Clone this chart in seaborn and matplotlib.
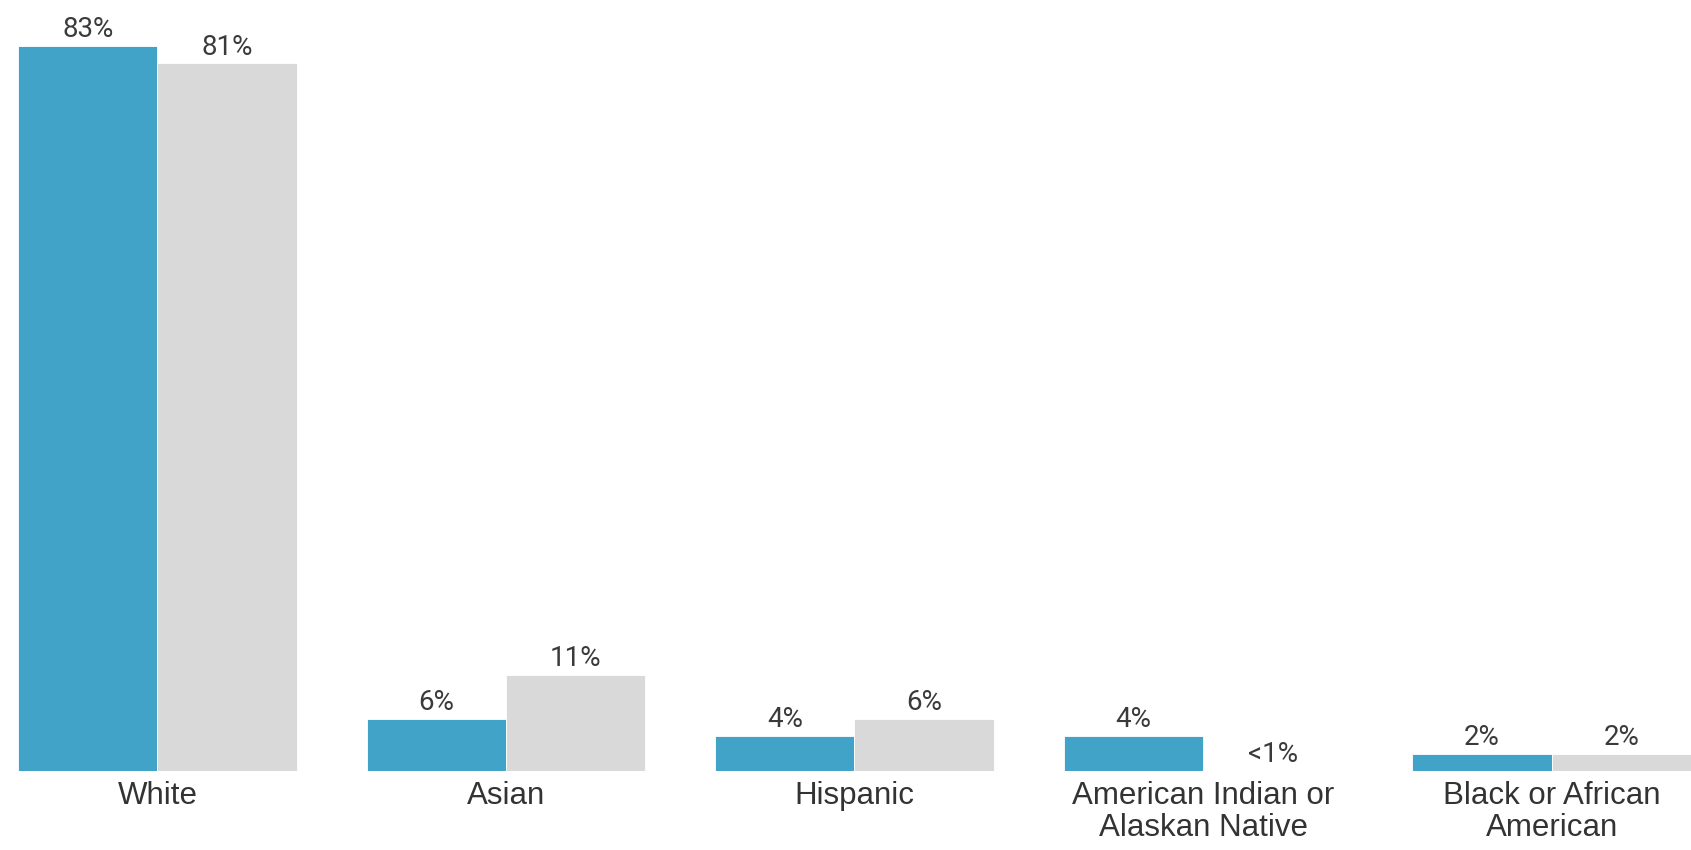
import matplotlib
matplotlib.use("Agg")
import matplotlib.pyplot as plt
import seaborn as sns
import pandas as pd

categories = ["White", "Asian", "Hispanic", "American Indian or\nAlaskan Native", "Black or African\nAmerican"]
groups = ["Group A", "Group B"]
values_a = [83, 6, 4, 4, 2]
values_b = [81, 11, 6, 0, 2]
labels_a = ["83%", "6%", "4%", "4%", "2%"]
labels_b = ["81%", "11%", "6%", "<1%", "2%"]
colors = ["#42A3C8", "#D9D9D9"]

df = pd.DataFrame({
    "category": categories * 2,
    "group": [groups[0]] * len(categories) + [groups[1]] * len(categories),
    "value": values_a + values_b,
})

sns.set_theme(style="white")
plt.rcParams["font.family"] = ["Liberation Sans", "DejaVu Sans"]

fig = plt.figure(figsize=(16.91, 8.50), dpi=100)
ax = fig.add_axes([18 / 1691, 79 / 850, 1 - 18 / 1691, (771 - 46) / 850])

sns.barplot(data=df, x="category", y="value", hue="group", order=categories,
            hue_order=groups, palette=colors, width=0.8, saturation=1,
            edgecolor="white", linewidth=0.6, legend=False, ax=ax)

ax.set_xlim(-0.4, len(categories) - 0.6)
ax.set_ylim(0, 83)

for container, labs in zip(ax.containers, [labels_a, labels_b]):
    ax.bar_label(container, labels=labs, padding=2, fontsize=20,
                 family=["Roboto", "DejaVu Sans"], color="#3a3a3a")

ax.set_xlabel("")
ax.set_ylabel("")
ax.set_yticks([])
ax.tick_params(axis="x", length=0, pad=7)
for t in ax.get_xticklabels():
    t.set_fontsize(22.5)
    t.set_color("#333333")
    t.set_linespacing(1.08)
for s in ax.spines.values():
    s.set_visible(False)

fig.savefig("out.png", dpi=100)
